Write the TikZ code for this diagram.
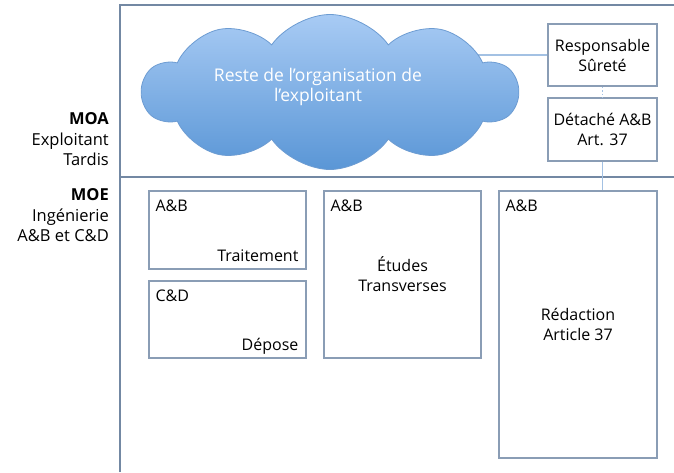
\documentclass[tikz,border=0pt]{standalone}
\usepackage{fontspec}
\setmainfont{Open Sans}
\usepackage{tikz}
\usetikzlibrary{shapes.symbols,backgrounds}

\definecolor{framecol}{HTML}{7388A3}
\definecolor{boxcol}{HTML}{8A9DB5}
\definecolor{linkcol}{HTML}{A3C1E3}
\definecolor{cloudtop}{HTML}{A8CBF4}
\definecolor{cloudbot}{HTML}{5A96D6}
\definecolor{cloudedge}{HTML}{6D9CD2}

\tikzset{
  cadre/.style={draw=framecol, line width=1.5pt},
  boite/.style={draw=boxcol, line width=1.3pt, align=center},
  lien/.style={draw=linkcol, line width=1.5pt},
  nuage/.style={cloud, cloud puffs=10, cloud puff arc=110, aspect=2.4,
    minimum width=375, minimum height=155, draw=cloudedge, line width=0.8pt,
    top color=cloudtop, bottom color=cloudbot},
  titre/.style={anchor=east, align=right, font=\fontsize{16.5}{20.5}\selectfont}
}

\begin{document}
\begin{tikzpicture}[x=1pt,y=-1pt,every node/.style={inner sep=0pt, font=\fontsize{16}{20}\selectfont}]
\useasboundingbox (0,0) rectangle (674,472);

\draw[cadre] (120,472) -- (120,5) -- (674,5);
\draw[cadre] (120,177) -- (674,177);

\node[titre] (moa) at (109,139.5) {\textbf{MOA}\\Exploitant\\Tardis};
\node[titre] (moe) at (109,215.5) {\textbf{MOE}\\Ingénierie\\A\&B et C\&D};

\node[nuage] (nuage) at (330,92) {};
\node[text=white, align=center, font=\fontsize{17.5}{20}\selectfont] (reste) at (318,87) {Reste de l’organisation de\\l’exploitant};

\node[boite, minimum width=109, minimum height=62] (resp) at (602.5,55) {Responsable\\Sûreté};
\node[boite, minimum width=109, minimum height=63] (det) at (602.5,129.5) {Détaché A\&B\\Art. 37};

\node[boite, minimum width=157, minimum height=78] (trait) at (227.5,230) {};
\node[boite, minimum width=157, minimum height=77] (depose) at (227.5,319.5) {};
\node[boite, minimum width=157, minimum height=167] (etudes) at (402.5,274.5) {Études\\Transverses};
\node[boite, minimum width=158, minimum height=267] (redac) at (578,324.5) {Rédaction\\Article 37};

\node[anchor=base west] at ([shift={(7,21)}]trait.north west) {A\&B};
\node[anchor=base east] at ([shift={(-8,-8)}]trait.south east) {Traitement};
\node[anchor=base west] at ([shift={(7,21)}]depose.north west) {C\&D};
\node[anchor=base east] at ([shift={(-8,-8)}]depose.south east) {Dépose};
\node[anchor=base west] at ([shift={(7,21)}]etudes.north west) {A\&B};
\node[anchor=base west] at ([shift={(7,21)}]redac.north west) {A\&B};

\begin{scope}[on background layer]
\draw[lien] (resp.west) -- (resp.west -| nuage.center);
\end{scope}
\draw[lien, dotted] (resp.south) -- (det.north);
\draw[lien] (det.south) -- (det.south |- redac.north);
\end{tikzpicture}
\end{document}
